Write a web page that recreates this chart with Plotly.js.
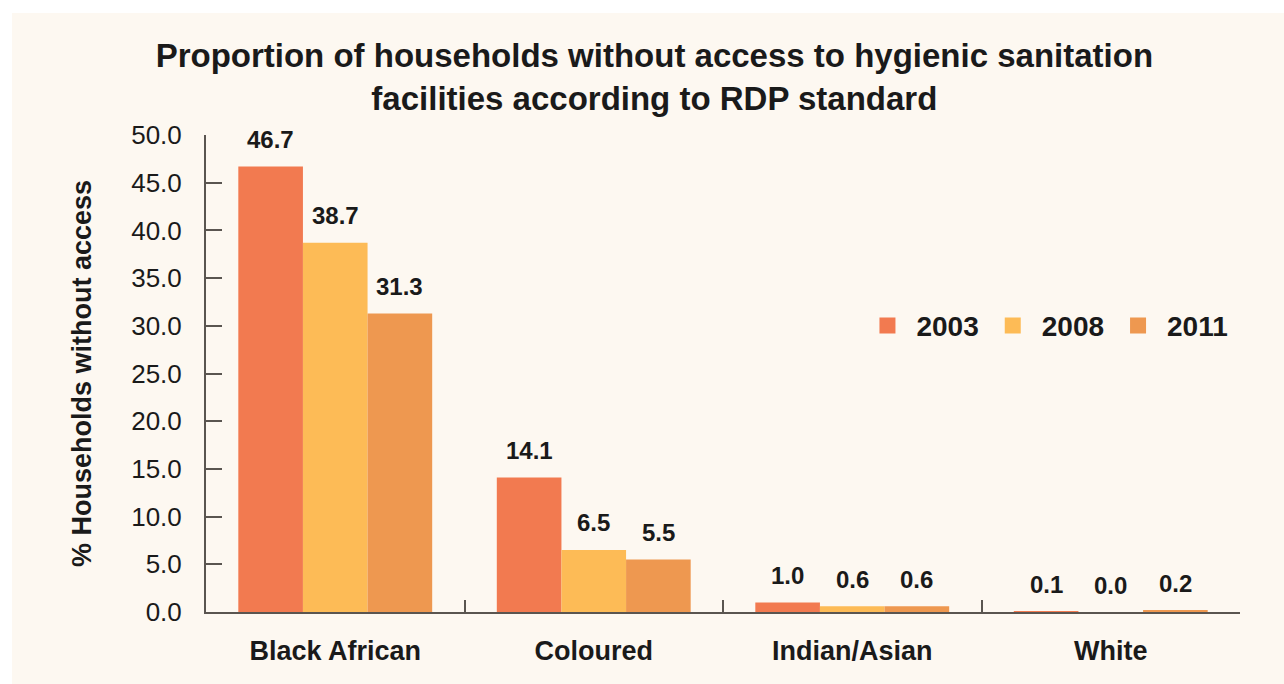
<!DOCTYPE html>
<html><head><meta charset="utf-8">
<script src="https://cdn.plot.ly/plotly-3.0.1.min.js"></script>
<style>body{margin:0;background:#fff;} #chart{position:absolute;left:12px;top:13px;width:1272px;height:671px;}</style>
</head><body><div id="chart"></div>
<script>
const categories = ["Black African", "Coloured", "Indian/Asian", "White"];
const years = ["2003", "2008", "2011"];
const v2003 = [46.7, 14.1, 1.0, 0.1];
const v2008 = [38.7, 6.5, 0.6, 0.0];
const v2011 = [31.3, 5.5, 0.6, 0.2];
const colors = ["#F27A50", "#FDBB56", "#EE9850"];
const series = [v2003, v2008, v2011];
const font = "Liberation Sans, Arial, sans-serif";
const bargap = 0.25;
const traces = series.map((vals, i) => ({
  type: "bar", name: years[i], x: categories, y: vals, legendgroup: years[i], showlegend: false,
  marker: {color: colors[i]}, hoverinfo: "none"
}));
// legend entries (larger square swatches)
years.forEach((yr, i) => traces.push({
  type: "scatter", mode: "markers", name: yr, legendgroup: yr, x: [null], y: [null],
  marker: {symbol: "square", size: 22, color: colors[i]}, hoverinfo: "none"
}));
const w = (1 - bargap) / series.length;
const annotations = [];
series.forEach((vals, j) => {
  vals.forEach((v, i) => {
    annotations.push({x: i + (j - (series.length - 1) / 2) * w, y: v, xref: "x", yref: "y",
      text: "<b>" + v.toFixed(1) + "</b>", showarrow: false, yanchor: "middle", yshift: 27,
      font: {family: font, size: 24, color: "#1a1a1a"}});
  });
});
const layout = {
  width: 1272, height: 671,
  paper_bgcolor: "#FDF8F1", plot_bgcolor: "#FDF8F1",
  margin: {l: 194, r: 44, t: 122, b: 72},
  barmode: "group", bargap: bargap, bargroupgap: 0,
  annotations: annotations,
  title: {text: "<b>Proportion of households without access to hygienic sanitation<br>facilities according to RDP standard</b>",
    x: 0.505, xanchor: "center", y: 0.92, yanchor: "top",
    font: {family: font, size: 33, color: "#1a1a1a"}},
  xaxis: {showline: true, linecolor: "#5a5550", linewidth: 2, ticks: "inside", tickson: "boundaries",
    ticklen: 12, tickcolor: "#5a5550", tickwidth: 2, showgrid: false, ticklabelstandoff: 14,
    tickfont: {family: font, size: 27, color: "#1a1a1a", weight: "bold"}},
  yaxis: {range: [0, 50], dtick: 5, tickformat: ".1f", showline: true, linecolor: "#5a5550", linewidth: 2,
    ticks: "inside", ticklen: 16, tickcolor: "#5a5550", tickwidth: 2, showgrid: false, zeroline: false,
    tickfont: {family: font, size: 26, color: "#1a1a1a"}, ticklabelstandoff: 17,
    title: {text: "<b>% Households without access</b>", standoff: 32, font: {family: font, size: 27, color: "#1a1a1a"}}},
  legend: {orientation: "h", x: 0.631, y: 0.6, xanchor: "left", yanchor: "middle", itemwidth: 48,
    itemsizing: "trace",
    font: {family: font, size: 28, color: "#1a1a1a", weight: "bold"}, bgcolor: "rgba(0,0,0,0)"},
  showlegend: true
};
Plotly.newPlot("chart", traces, layout, {displayModeBar: false, staticPlot: true});
</script></body></html>
